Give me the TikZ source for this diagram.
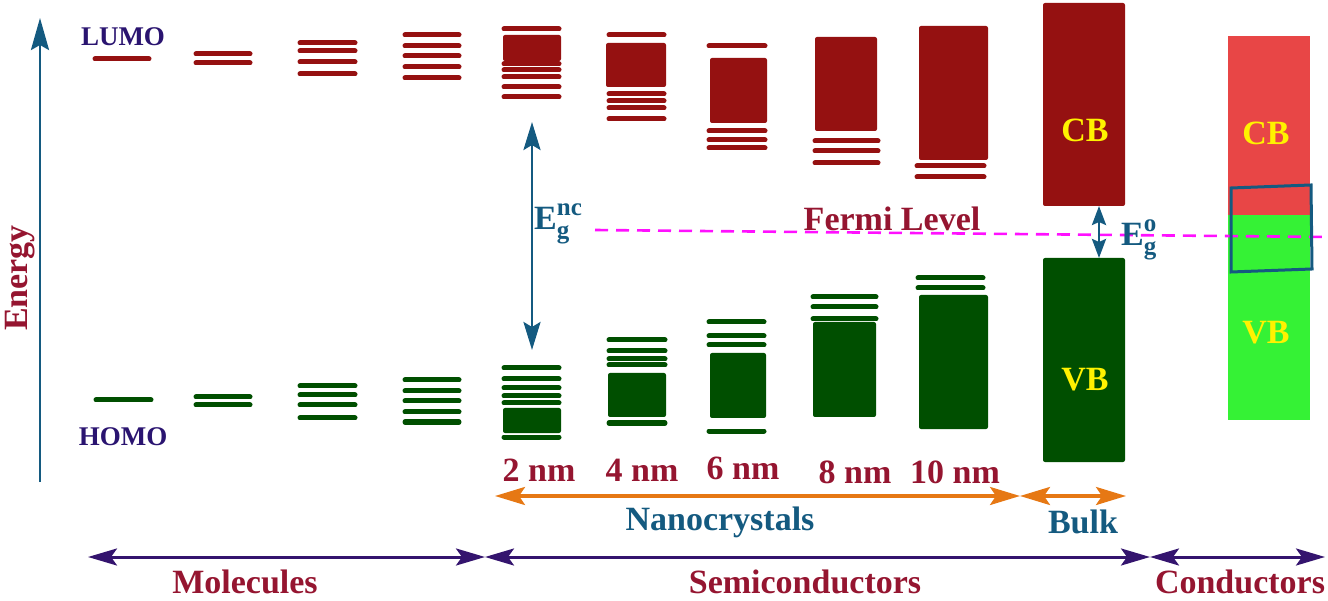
\documentclass[tikz,border=0pt]{standalone}
\usepackage{fontspec}
\setmainfont{Liberation Serif}
\usetikzlibrary{arrows.meta}
\definecolor{lumo}{HTML}{951111}
\definecolor{homo}{HTML}{004F00}
\definecolor{cred}{HTML}{E84646}
\definecolor{cgreen}{HTML}{35F235}
\definecolor{txtred}{HTML}{951530}
\definecolor{txtblue}{HTML}{145A80}
\definecolor{indigo}{HTML}{2A1470}
\definecolor{orangeA}{HTML}{E67814}
\definecolor{purpleA}{HTML}{34146E}
\definecolor{fermi}{HTML}{FF10FF}
\newcommand\mylevels[4]{\foreach \yy in {#4} {\draw[#1] (#2,\yy) -- (#3,\yy);}}
\begin{document}
\begin{tikzpicture}[x=1pt,y=-1pt,
  lu/.style={draw=lumo,line width=5pt,line cap=round},
  ho/.style={draw=homo,line width=5pt,line cap=round},
  lubox/.style={fill=lumo,rounded corners=2pt},
  hobox/.style={fill=homo,rounded corners=2pt},
  txt/.style={font=\fontsize{34}{40}\selectfont\bfseries, inner sep=0pt},
  small/.style={font=\fontsize{27}{32}\selectfont\bfseries, inner sep=0pt, text=indigo},
  barrow/.style={draw=txtblue,line width=2.8pt},
  oarrow/.style={draw=orangeA,line width=3.4pt,{Stealth[length=30pt,width=18pt,inset=6pt]}-{Stealth[length=30pt,width=18pt,inset=6pt]}},
  parrow/.style={draw=purpleA,line width=3pt,{Stealth[length=29pt,width=17pt,inset=6pt]}-{Stealth[length=29pt,width=17pt,inset=6pt]}}
]
\useasboundingbox (0,0) rectangle (1328,601);

% energy axis
\coordinate (ebot) at (40,482);
\coordinate (etop) at (40,18);
\draw[barrow,-{Stealth[length=32pt,width=18pt,inset=5pt]}] (ebot) -- (etop);
\node[txt,text=txtred,rotate=90] (energy) at (20,278) {Energy};

% molecules
\node[small] (lumo) at (123,37) {LUMO};
\node[small] (homo) at (123,437) {HOMO};
\mylevels{lu}{95}{149}{59}
\mylevels{lu}{196}{250}{54,63}
\mylevels{lu}{300}{355}{43,51,62,74}
\mylevels{lu}{405}{459}{35,46,56,67,78}
\mylevels{ho}{96}{151}{400}
\mylevels{ho}{196}{250}{397,405}
\mylevels{ho}{300}{355}{386,395,405,418}
\mylevels{ho}{405}{459}{380,391,401,412,422}

% nanocrystals conduction side
\mylevels{lu}{504}{559}{29,64,70,77,87,97}
\fill[lubox] (503,35) rectangle (561,61);
\mylevels{lu}{609}{664}{35,94,101,108,119}
\fill[lubox] (606,43) rectangle (666,87);
\mylevels{lu}{709}{765}{46,131,140,148}
\fill[lubox] (710,58) rectangle (767,123);
\mylevels{lu}{815}{878}{141,151,163}
\fill[lubox] (815,37) rectangle (877,131);
\mylevels{lu}{917}{984}{166,177}
\fill[lubox] (919,26) rectangle (988,160);

% nanocrystals valence side
\mylevels{ho}{504}{559}{368,379,388,396,403,437}
\fill[hobox] (503,408) rectangle (561,433);
\mylevels{ho}{609}{665}{340,351,359,365,423}
\fill[hobox] (608,373) rectangle (666,417);
\mylevels{ho}{709}{764}{322,336,345,431}
\fill[hobox] (710,353) rectangle (766,418);
\mylevels{ho}{813}{876}{297,307,319}
\fill[hobox] (813,322) rectangle (876,417);
\mylevels{ho}{918}{983}{278,288}
\fill[hobox] (919,295) rectangle (988,429);

% bulk
\fill[lubox] (1043,3) rectangle (1125,206);
\fill[hobox] (1043,258) rectangle (1125,462);
\node[txt,text=yellow] (bcb) at (1085,130) {CB};
\node[txt,text=yellow] (bvb) at (1085,380) {VB};

% conductor
\fill[cred] (1228,36) rectangle (1310,215);
\fill[cgreen] (1228,215) rectangle (1310,420);
\node[txt,text=yellow] (ccb) at (1266,133) {CB};
\node[txt,text=yellow] (cvb) at (1266,333) {VB};

% fermi level
\coordinate (fl) at (595,230);
\coordinate (fr) at (1328,237);
\draw[fermi,line width=2.6pt,dash pattern=on 13pt off 8pt] (fl) -- (fr);
\node[txt,text=txtred] (fermitxt) at (892,219) {Fermi Level};

% blue tilted box
\draw[txtblue,line width=3pt] (1231,188) -- (1311,185) -- (1312,269) -- (1231,272) -- cycle;

% band gaps
\coordinate (gt) at (532,122);
\coordinate (gb) at (532,350);
\draw[barrow,{Stealth[length=28pt,width=17pt,inset=5pt]}-{Stealth[length=28pt,width=17pt,inset=5pt]}] (gt) -- (gb);
\node[txt,text=txtblue,anchor=west] (egnc) at (534,224)
  {E{\fontsize{25}{28}\selectfont\rlap{\raisebox{14pt}{nc}}\raisebox{-9pt}{g}}};
\coordinate (bt) at (1099,206);
\coordinate (bb) at (1099,258);
\draw[barrow,{Stealth[length=19pt,width=14pt,inset=3pt]}-{Stealth[length=19pt,width=14pt,inset=3pt]}] (bt) -- (bb);
\node[txt,text=txtblue,anchor=west] (ego) at (1121,240)
  {E{\fontsize{25}{28}\selectfont\rlap{\raisebox{14pt}{o}}\raisebox{-9pt}{g}}};

% size labels
\node[txt,text=txtred] (n2) at (539,470) {2 nm};
\node[txt,text=txtred] (n4) at (642,470) {4 nm};
\node[txt,text=txtred] (n6) at (743,468) {6 nm};
\node[txt,text=txtred] (n8) at (855,472) {8 nm};
\node[txt,text=txtred] (n10) at (955,472) {10 nm};

% orange arrows
\coordinate (o1) at (495,496);
\coordinate (o2) at (1020,496);
\coordinate (o3) at (1126,496);
\draw[oarrow] (o1) -- (o2);
\draw[oarrow] (o2) -- (o3);
\node[txt,text=txtblue] (nano) at (720,522) {Nanocrystals};
\node[txt,text=txtblue] (bulk) at (1083,522) {Bulk};

% purple arrows
\coordinate (p1) at (88,557);
\coordinate (p2) at (485,557);
\coordinate (p3) at (1150,557);
\coordinate (p4) at (1325,557);
\draw[parrow] (p1) -- (p2);
\draw[parrow] (p2) -- (p3);
\draw[parrow] (p3) -- (p4);
\node[txt,text=txtred] (mol) at (245,582) {Molecules};
\node[txt,text=txtred] (semi) at (805,582) {Semiconductors};
\node[txt,text=txtred] (cond) at (1240,582) {Conductors};
\end{tikzpicture}
\end{document}
